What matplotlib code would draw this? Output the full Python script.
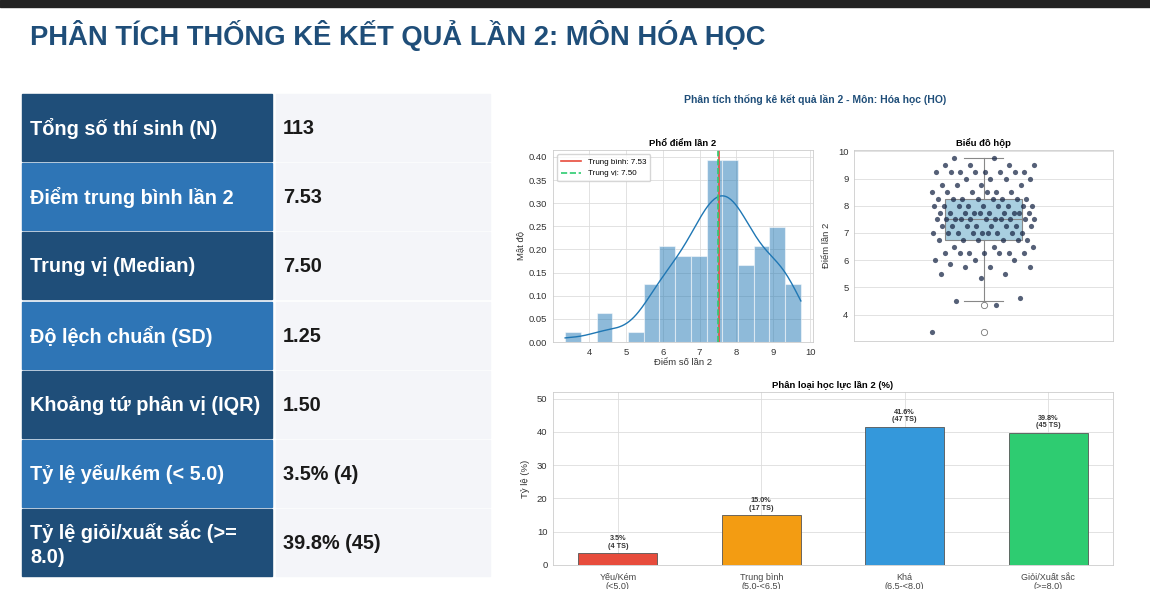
import numpy as np
import matplotlib
matplotlib.use('Agg')
import matplotlib.pyplot as plt
from matplotlib.patches import Rectangle

plt.rcParams['font.family'] = ['Liberation Sans', 'DejaVu Sans']

# ---- du lieu ----
title = 'PHÂN TÍCH THỐNG KÊ KẾT QUẢ LẦN 2: MÔN HÓA HỌC'
stat_names = ['Tổng số thí sinh (N)', 'Điểm trung bình lần 2', 'Trung vị (Median)',
              'Độ lệch chuẩn (SD)', 'Khoảng tứ phân vị (IQR)', 'Tỷ lệ yếu/kém (< 5.0)',
              'Tỷ lệ giỏi/xuất sắc (>=\n8.0)']
stat_values = ['113', '7.53', '7.50', '1.25', '1.50', '3.5% (4)', '39.8% (45)']
mean_val = 7.53
median_val = 7.50

score_levels = [3.35, 4.35, 4.5, 4.6, 5.35, 5.5, 5.75, 5.85, 6.0, 6.25, 6.5, 6.75,
                7.0, 7.25, 7.5, 7.75, 8.0, 8.25, 8.5, 8.75, 9.0, 9.25, 9.5, 9.75]
score_counts = [1, 1, 1, 1, 1, 2, 3, 1, 3, 7, 3, 6,
                9, 8, 11, 10, 9, 8, 6, 4, 4, 8, 4, 2]
scores = np.repeat(score_levels, score_counts)

cat_labels = ['Yếu/Kém\n(<5.0)', 'Trung bình\n(5.0-<6.5)', 'Khá\n(6.5-<8.0)', 'Giỏi/Xuất sắc\n(>=8.0)']
cat_counts = [4, 17, 47, 45]
cat_colors = ['#e74c3c', '#f39c12', '#3498db', '#2ecc71']

W, H = 1150, 589
fig = plt.figure(figsize=(W / 100, H / 100), dpi=100, facecolor='white')

def px_axes(x0, y0, x1, y1):
    return fig.add_axes([x0 / W, 1 - y1 / H, (x1 - x0) / W, (y1 - y0) / H])

# ---- nen slide: thanh tren, tieu de, bang ----
bg = fig.add_axes([0, 0, 1, 1])
bg.set_xlim(0, W)
bg.set_ylim(H, 0)
bg.axis('off')
bg.add_patch(Rectangle((0, 0), W, 7, color='#222222'))
bg.text(30, 45, title, fontsize=19.7, fontweight='bold', color='#1f4e79', va='baseline')

row_top, row_pitch, row_h = 94, 69.2, 67
for i, (name, val) in enumerate(zip(stat_names, stat_values)):
    y = row_top + i * row_pitch
    c = '#1f4e79' if i % 2 == 0 else '#2e75b6'
    bg.add_patch(Rectangle((22, y), 250, row_h, color=c))
    bg.add_patch(Rectangle((276, y), 214, row_h, color='#f4f5f9'))
    bg.text(30, y + row_h / 2 + 1, name, color='white', fontsize=14.3, fontweight='bold',
            va='center', linespacing=1.3)
    bg.text(283, y + row_h / 2 + 1, val, color='#1a1a1a', fontsize=14.3, fontweight='bold', va='center')

# ---- bieu do ----
bg.text(815, 99, 'Phân tích thống kê kết quả lần 2 - Môn: Hóa học (HO)', fontsize=7.5,
        fontweight='bold', color='#1f4e79', ha='center', va='center')

def style(ax):
    ax.set_facecolor('white')
    ax.grid(True, color='#dddddd', linewidth=0.6)
    ax.set_axisbelow(True)
    for s in ax.spines.values():
        s.set_color('#cccccc')
        s.set_linewidth(0.6)
    ax.tick_params(labelsize=6.8, colors='#333333', length=0, pad=4)

# pho diem
ax1 = px_axes(553, 150, 813, 342)
style(ax1)
ax1.hist(scores, bins=15, density=True, color='#1f77b4', alpha=0.5, edgecolor='white', linewidth=0.8)
bw = scores.std(ddof=1) * len(scores) ** (-1 / 5)
xs = np.linspace(scores.min(), scores.max(), 200)
kde = np.exp(-0.5 * ((xs[:, None] - scores[None, :]) / bw) ** 2).sum(axis=1) / (len(scores) * bw * np.sqrt(2 * np.pi))
ax1.plot(xs, kde, color='#1f77b4', linewidth=1)
ax1.axvline(mean_val, color='#e74c3c', linewidth=1.2, label=f'Trung bình: {mean_val:.2f}')
ax1.axvline(median_val, color='#2ecc71', linewidth=1.2, linestyle='--', label=f'Trung vị: {median_val:.2f}')
ax1.set_xlim(3.02, 10.08)
ax1.set_ylim(0, 0.415)
ax1.set_xticks(range(4, 11))
ax1.set_yticks(np.arange(0, 0.41, 0.05))
ax1.yaxis.set_major_formatter(matplotlib.ticker.FormatStrFormatter('%.2f'))
ax1.set_title('Phổ điểm lần 2', fontsize=6.8, fontweight='bold', pad=3)
ax1.set_xlabel('Điểm số lần 2', fontsize=6.8, labelpad=1, color='#333333')
ax1.set_ylabel('Mật độ', fontsize=6.8, labelpad=3, color='#333333')
ax1.legend(loc='upper left', fontsize=5.8, frameon=True, edgecolor='#cccccc', fancybox=True,
           borderpad=0.5, handlelength=2.5)

# bieu do hop
ax2 = px_axes(854, 150, 1113, 341)
style(ax2)
ax2.boxplot(scores, positions=[0], widths=0.3, patch_artist=True,
            boxprops=dict(facecolor='#a9cfe0', edgecolor='#888888', linewidth=0.8),
            medianprops=dict(color='#888888', linewidth=0.8),
            whiskerprops=dict(color='#888888', linewidth=0.8),
            capprops=dict(color='#888888', linewidth=0.8),
            flierprops=dict(marker='o', markerfacecolor='white', markeredgecolor='#777777',
                            markersize=4.5, markeredgewidth=0.6))
jit = ((np.arange(len(scores)) * 0.618034) % 1 - 0.5) * 0.4
ax2.scatter(jit, scores, s=14, color='#1c2b4a', alpha=0.75, linewidths=0, zorder=3)
ax2.set_xlim(-0.5, 0.5)
ax2.set_ylim(3.03, 10.05)
ax2.set_xticks([])
ax2.set_yticks(range(4, 11))
ax2.grid(axis='x', visible=False)
ax2.set_title('Biểu đồ hộp', fontsize=6.8, fontweight='bold', pad=3)
ax2.set_ylabel('Điểm lần 2', fontsize=6.8, labelpad=5, color='#333333')

# phan loai hoc luc
ax3 = px_axes(553, 392, 1113, 565)
style(ax3)
n = sum(cat_counts)
pct = [c / n * 100 for c in cat_counts]
xpos = np.arange(len(cat_labels))
ax3.bar(xpos, pct, width=0.55, color=cat_colors, edgecolor='#555555', linewidth=0.6)
for x, p, c in zip(xpos, pct, cat_counts):
    ax3.text(x, p + 1, f'{p:.1f}%\n({c} TS)', ha='center', va='bottom', fontsize=5.2,
             fontweight='bold', color='#333333', linespacing=1.1)
ax3.set_xticks(xpos)
ax3.set_xticklabels(cat_labels, fontsize=6.5, linespacing=1.0, color='#444444')
ax3.tick_params(axis='x', pad=6)
ax3.set_ylim(0, 52)
ax3.set_yticks(range(0, 51, 10))
ax3.set_title('Phân loại học lực lần 2 (%)', fontsize=6.8, fontweight='bold', pad=3)
ax3.set_ylabel('Tỷ lệ (%)', fontsize=6.8, labelpad=5, color='#333333')

fig.savefig('out.png', dpi=100, facecolor='white')
